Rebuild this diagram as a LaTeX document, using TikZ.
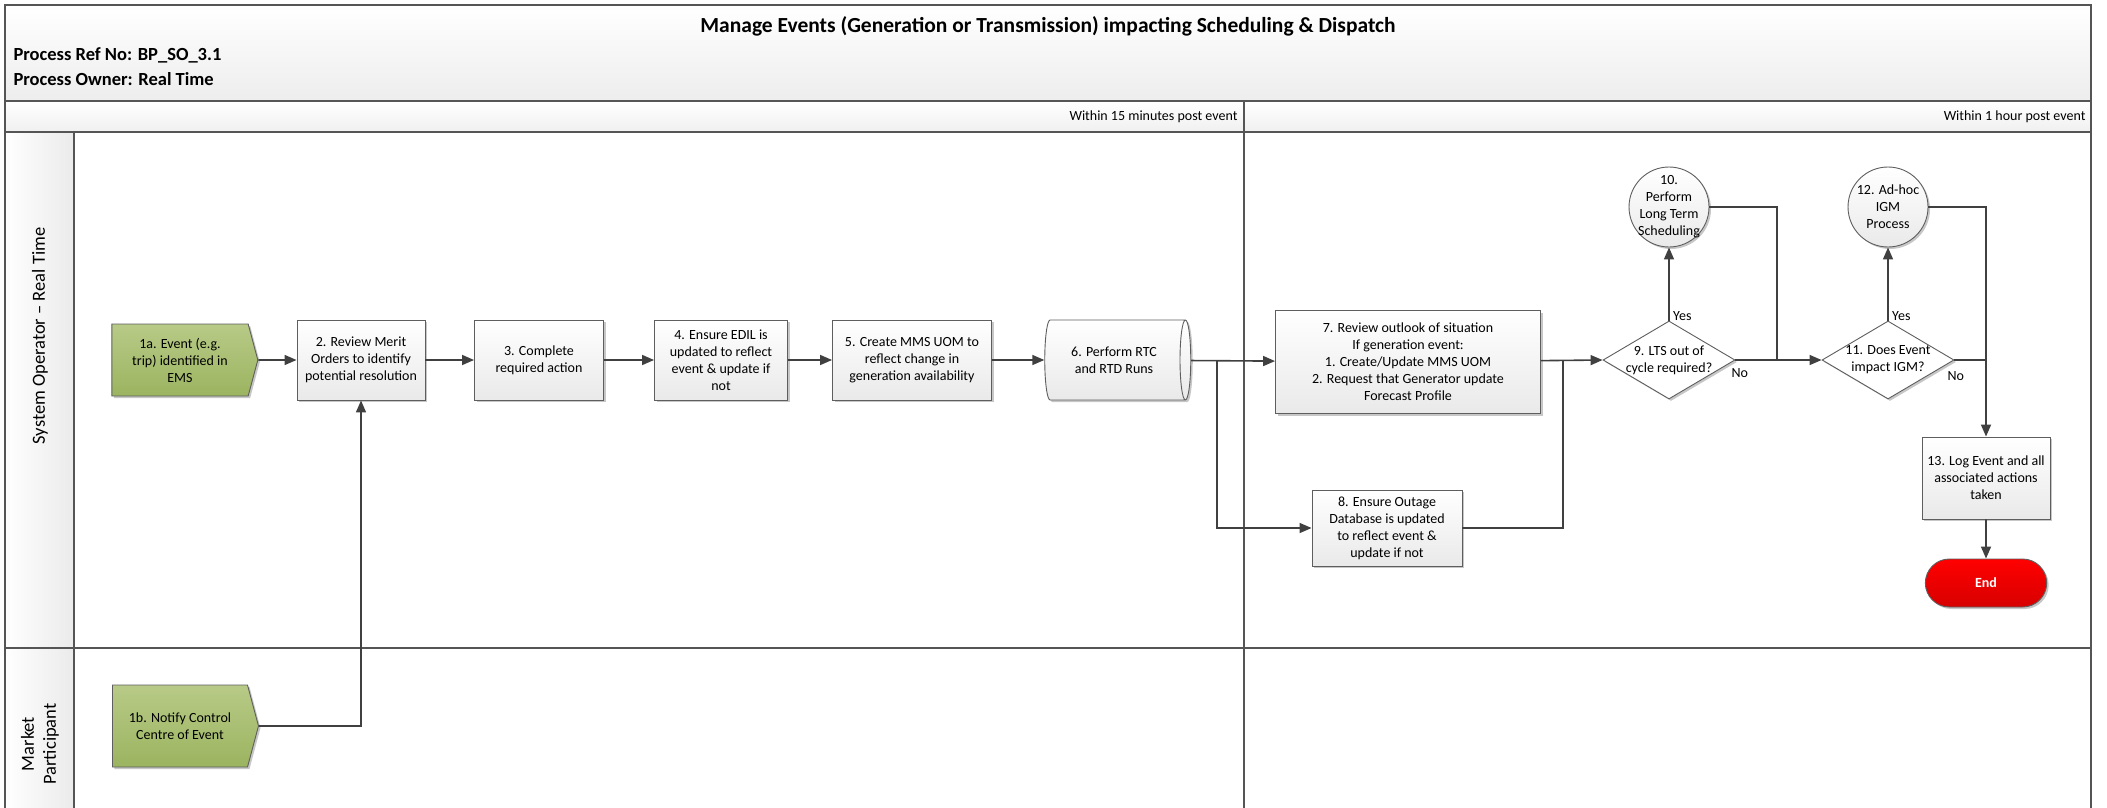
\documentclass[tikz,border=0pt]{standalone}
\usepackage{fontspec}
\setmainfont{Carlito}
\usetikzlibrary{shapes.geometric,shapes.symbols,shapes.misc,arrows.meta,shadows}
\definecolor{ln}{HTML}{404040}
\definecolor{frm}{HTML}{555555}
\definecolor{gtop}{RGB}{184,202,135}
\definecolor{gbot}{RGB}{155,180,96}
\definecolor{gbrd}{HTML}{5E5E5E}
\tikzset{
  shd/.style={drop shadow={shadow xshift=2pt,shadow yshift=-2pt,opacity=0.22,fill=black}},
  txt/.style={font=\fontsize{14}{17}\selectfont, align=center},
  graybox/.style={txt, draw=gbrd, line width=0.9pt, top color=white, bottom color=gray!17, shd, inner sep=2pt},
  greenbox/.style={txt, draw=gbrd, line width=0.9pt, shape=signal, signal to=east, signal pointer angle=150,
     top color=gtop, bottom color=gbot, shd, minimum width=146pt, inner sep=2pt},
  decide/.style={shape=diamond, draw=gbrd, line width=0.9pt, fill=white, minimum width=132pt, minimum height=78pt, inner sep=0pt, shd},
  circ/.style={shape=circle, draw=gbrd, line width=0.9pt, top color=white, bottom color=gray!17, minimum size=80pt, inner sep=0pt, shd},
  conn/.style={draw=ln, line width=1.6pt},
  arr/.style={conn, -{Triangle[length=12pt,width=10pt]}},
  frame/.style={draw=frm, line width=1.2pt},
  yn/.style={font=\fontsize{14}{17}\selectfont, inner sep=1pt}
}
\begin{document}
\begin{tikzpicture}[x=1pt,y=-1pt]
\useasboundingbox (0,0) rectangle (2107,808);
% header band and phase row
\fill[top color=white, bottom color=gray!14] (5,5) rectangle (2091,101);
\fill[top color=white, bottom color=gray!12] (5,101) rectangle (2091,132);
\fill[left color=white, right color=gray!16] (5,132) rectangle (74,808);
% frame lines
\draw[frame] (5,808) -- (5,5) -- (2091,5) -- (2091,808);
\draw[frame] (5,101) -- (2091,101);
\draw[frame] (5,132) -- (2091,132);
\draw[frame] (5,648) -- (2091,648);
\draw[frame] (74,132) -- (74,808);
\draw[frame] (1244,101) -- (1244,808);
% header texts
\node[font=\bfseries\fontsize{21.5}{25}\selectfont] (title) at (1048,26) {Manage Events (Generation or Transmission) impacting Scheduling \& Dispatch};
\node[anchor=west, font=\bfseries\fontsize{18.5}{21}\selectfont] (pref) at (10,55) {Process Ref No: BP\_SO\_3.1};
\node[anchor=west, font=\bfseries\fontsize{18.5}{21}\selectfont] (pown) at (10,79) {Process Owner: Real Time};
\node[anchor=east, font=\fontsize{14}{16}\selectfont] (ph1) at (1241,117) {Within 15 minutes post event};
\node[anchor=east, font=\fontsize{14}{16}\selectfont] (ph2) at (2089,117) {Within 1 hour post event};
% lane labels
\node[rotate=90, font=\fontsize{18.5}{22}\selectfont] (lane1) at (40,336) {System Operator – Real Time};
\node[rotate=90, align=center, font=\fontsize{18.5}{22}\selectfont] (lane2) at (40,744) {Market\\Participant};
% process nodes
\node[greenbox, minimum height=72pt] (n1a) at (180,360) {1a. Event (e.g.\\trip) identified in\\EMS};
\node[greenbox, minimum height=82pt] (n1b) at (180,726) {1b. Notify Control\\Centre of Event};
\node[graybox, minimum width=128pt, minimum height=80pt] (n2) at (361,360) {2. Review Merit\\Orders to identify\\potential resolution};
\node[graybox, minimum width=129pt, minimum height=80pt] (n3) at (539,360) {3. Complete\\required action};
\node[graybox, minimum width=133pt, minimum height=80pt] (n4) at (721,360) {4. Ensure EDIL is\\updated to reflect\\event \& update if\\not};
\node[graybox, minimum width=159pt, minimum height=80pt] (n5) at (912,360) {5. Create MMS UOM to\\reflect change in\\generation availability};
\node[txt, shape=cylinder, draw=gbrd, line width=0.9pt, shape aspect=0.35, top color=white, bottom color=gray!17, shd,
      minimum width=80pt, minimum height=146pt, inner sep=2pt] (n6) at (1114,360) {6. Perform RTC\\and RTD Runs};
\node[graybox, minimum width=265pt, minimum height=103pt] (n7) at (1408,362) {7. Review outlook of situation\\If generation event:\\1. Create/Update MMS UOM\\2. Request that Generator update\\Forecast Profile};
\node[graybox, minimum width=150pt, minimum height=76pt] (n8) at (1387,528) {8. Ensure Outage\\Database is updated\\to reflect event \&\\update if not};
\node[decide] (n9) at (1669,360) {};
\node[txt] (n9t) at (n9.center) {9. LTS out of\\cycle required?};
\node[circ] (c10) at (1669,207) {};
\node[txt] (c10t) at (c10.center) {10.\\Perform\\Long Term\\Scheduling};
\node[decide] (n11) at (1888,360) {};
\node[txt] (n11t) at (n11.center) {11. Does Event\\impact IGM?};
\node[circ] (c12) at (1888,207) {};
\node[txt] (c12t) at (c12.center) {12. Ad-hoc\\IGM\\Process};
\node[graybox, minimum width=128pt, minimum height=82pt] (n13) at (1986,478) {13. Log Event and all\\associated actions\\taken};
\node[shape=rounded rectangle, draw=gbrd, line width=0.9pt, top color={rgb,255:red,255;green,0;blue,0}, bottom color={rgb,255:red,215;green,0;blue,0}, shd,
      minimum width=128pt, minimum height=48pt, text=white, font=\bfseries\fontsize{14}{17}\selectfont] (nend) at (1986,583) {End};
% junction coordinates
\coordinate (b6) at (1217,360);
\coordinate (j8) at (1563,360);
\coordinate (j10) at (1777,360);
\coordinate (j11) at (1986,360);
% connectors
\draw[arr] (n1a) -- (n2);
\draw[arr] (n2) -- (n3);
\draw[arr] (n3) -- (n4);
\draw[arr] (n4) -- (n5);
\draw[arr] (n5) -- (n6);
\draw[arr] (n6) -- (n7);
\draw[arr] (b6) |- (n8.west);
\draw[conn] (n8.east) -| (j8);
\draw[arr] (n7) -- (n9.west);
\draw[arr] (n9.north) -- (c10.south);
\draw[conn] (c10.east) -| (j10);
\draw[arr] (n9.east) -- (n11.west);
\draw[arr] (n11.north) -- (c12.south);
\draw[conn] (n11.east) -- (j11);
\draw[arr] (c12.east) -| (n13.north);
\draw[arr] (n13) -- (nend);
\draw[arr] (n1b.east) -| (n2.south);
% yes/no labels
\node[yn, anchor=south west] (y9) at ([xshift=3pt,yshift=-1pt]n9.north) {Yes};
\node[yn, anchor=north west] (no9) at ([xshift=-5pt,yshift=-7pt]n9.east) {No};
\node[yn, anchor=south west] (y11) at ([xshift=3pt,yshift=-1pt]n11.north) {Yes};
\node[yn, anchor=north west] (no11) at ([xshift=-8pt,yshift=-10pt]n11.east) {No};
\end{tikzpicture}
\end{document}
